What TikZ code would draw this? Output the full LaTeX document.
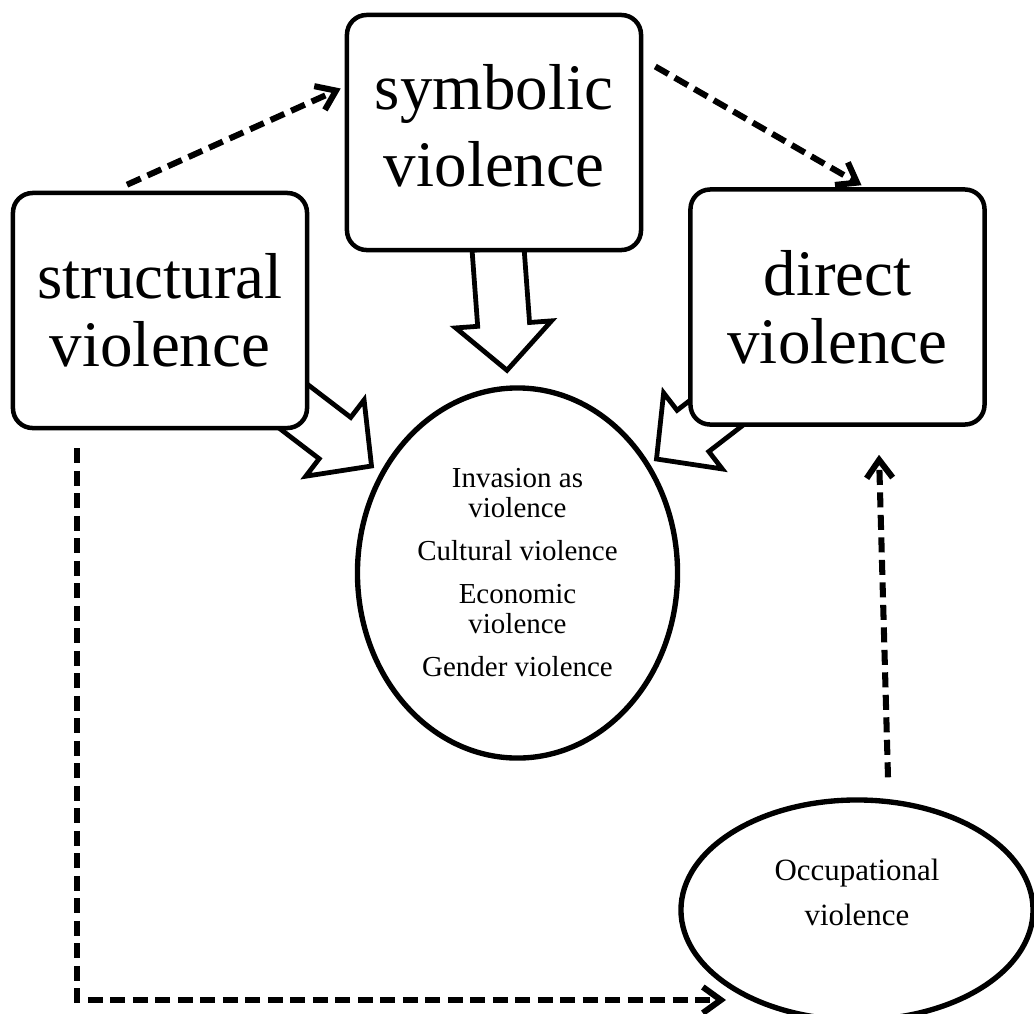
\documentclass[tikz,border=0pt]{standalone}
\usepackage{fontspec}
\setmainfont{Liberation Serif}
\usetikzlibrary{arrows.meta,calc,positioning,shapes.geometric,backgrounds}
\tikzset{
	kind/.style={
		shape=rectangle,
		minimum width=7.35cm,
		minimum height=5.875cm,
		rounded corners=14pt,
		line width=3.2pt,
		fill=white,
		draw,
		align=center,
		font=\fontsize{46.2}{48.4}\selectfont
	},
	forms/.style={
		shape=ellipse,
		line width=3.8pt,
		fill=white,
		draw,
		inner sep=0pt,
		align=center
	},
	link/.style={
		-{Straight Barb[length=0.45cm,width=0.65cm]},
		line width=4.3pt,
		dash pattern=on 10.7pt off 5.3pt
	},
	fatarrow/.style={
		line width=3.4pt,
		fill=white,
		line join=miter
	}
}
% hollow block arrow from #1 (tail) to #2 (tip)
\newcommand{\blockarrow}[2]{%
	\coordinate (hb) at ($(#2)!1.15cm!(#1)$);
	\draw[fatarrow] ($(#1)!0.65cm!90:(#2)$) -- ($(hb)!0.65cm!90:(#2)$)
		-- ($(hb)!1.2cm!90:(#2)$) -- (#2)
		-- ($(hb)!1.2cm!-90:(#2)$) -- ($(hb)!0.65cm!-90:(#2)$)
		-- ($(#1)!0.65cm!-90:(#2)$) -- cycle;
}
\begin{document}
\begin{tikzpicture}[x=0.025cm,y=-0.025cm]
	\useasboundingbox (0,0) rectangle (1034,1014);

	\node[kind] (str) at (160,310.5) {structural\\violence};
	\node[kind, text depth=0.33cm, font=\fontsize{46.2}{54.8}\selectfont] (sym) at (494,132.5) {symbolic\\violence};
	\node[kind] (dir) at (837.5,307) {direct\\violence};

	\node[forms, minimum width=8cm, minimum height=9.25cm, font=\fontsize{20.6}{21.3}\selectfont] (inv) at (517.5,573)
		{Invasion as\\violence\\[9.3pt]Cultural violence\\[9.3pt]Economic\\violence\\[9.3pt]Gender violence};
	\node[forms, minimum width=8.8cm, minimum height=5.5cm, text depth=0.9cm, font=\fontsize{22}{32}\selectfont] (occ) at (857,910)
		{Occupational\\violence};

	% block arrows into the centre
	\begin{pgfonlayer}{background}
		\blockarrow{$(sym.south)+(4,-4)$}{$(inv.north)+(-10.5,-15)$}
		\blockarrow{$(str.south east)+(-29,-34)$}{$(inv.center)+(-146,-107)$}
		\blockarrow{$(dir.south west)+(62,-40)$}{$(inv.center)+(139,-114)$}
	\end{pgfonlayer}

	% dashed links
	\draw[link] ($(str.north)+(-33,-6)$) -- ($(sym.west)+(-4,-44)$);
	\draw[link] ($(sym.east)+(12,-66)$) -- ($(dir.north)+(24,-2)$);
	\draw[link] ($(str.south)+(-83,18)$) |- ($(occ.center)+(-131,90)$);
	\draw[link] ($(occ.north)+(31,-20)$) -- ($(dir.south)+(41.5,28)$);
\end{tikzpicture}
\end{document}
